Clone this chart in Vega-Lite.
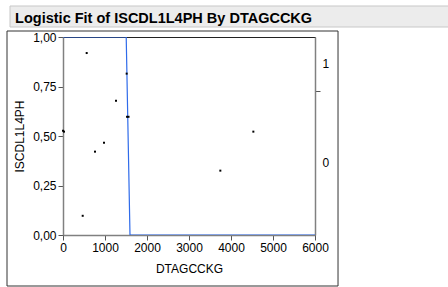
{
  "$schema": "https://vega.github.io/schema/vega-lite/v6.json",
  "width": 252,
  "height": 198,
  "autosize": {"type": "none"},
  "padding": {"left": 63, "top": 37, "right": 133, "bottom": 52},
  "background": "white",
  "config": {
    "font": "Liberation Sans",
    "view": {"stroke": "#222222", "strokeWidth": 1},
    "axis": {
      "grid": false,
      "domainColor": "#808080",
      "domainWidth": 1.5,
      "tickColor": "#555555",
      "tickSize": 5,
      "labelFont": "Liberation Sans",
      "labelFontSize": 12,
      "labelColor": "#000000",
      "labelPadding": 2,
      "labelFlush": false,
      "labelOverlap": false,
      "titleFont": "Liberation Sans",
      "titleFontSize": 12,
      "titleFontWeight": "normal",
      "titleColor": "#000000"
    }
  },
  "datasets": {
    "points": [
      {"DTAGCCKG": 0, "ISCDL1L4PH": 0.527},
      {"DTAGCCKG": 24, "ISCDL1L4PH": 0.522},
      {"DTAGCCKG": 564, "ISCDL1L4PH": 0.919},
      {"DTAGCCKG": 469, "ISCDL1L4PH": 0.097},
      {"DTAGCCKG": 762, "ISCDL1L4PH": 0.421},
      {"DTAGCCKG": 976, "ISCDL1L4PH": 0.466},
      {"DTAGCCKG": 1262, "ISCDL1L4PH": 0.678},
      {"DTAGCCKG": 1516, "ISCDL1L4PH": 0.815},
      {"DTAGCCKG": 1525, "ISCDL1L4PH": 0.597},
      {"DTAGCCKG": 1560, "ISCDL1L4PH": 0.597},
      {"DTAGCCKG": 3746, "ISCDL1L4PH": 0.325},
      {"DTAGCCKG": 4532, "ISCDL1L4PH": 0.522}
    ],
    "curve": [
      {"DTAGCCKG": 0, "prob": 1},
      {"DTAGCCKG": 1505, "prob": 1},
      {"DTAGCCKG": 1550, "prob": 0.5},
      {"DTAGCCKG": 1595, "prob": 0},
      {"DTAGCCKG": 6000, "prob": 0}
    ],
    "heading": [
      {"label": "Logistic Fit of ISCDL1L4PH By DTAGCCKG"}
    ]
  },
  "layer": [
    {
      "data": {"values": [{}]},
      "mark": {"type": "rect", "fill": "#ececec", "stroke": "#c8c8c8", "strokeWidth": 1, "clip": false},
      "encoding": {
        "x": {"datum": -1262, "type": "quantitative", "scale": {"domain": [0, 6000], "nice": false, "zero": false}, "axis": {"values": [0, 1000, 2000, 3000, 4000, 5000, 6000], "format": "d", "title": "DTAGCCKG", "titlePadding": 10}},
        "x2": {"datum": 9400},
        "y": {"datum": 1.1566, "type": "quantitative", "scale": {"domain": [0, 1], "nice": false, "zero": false}, "axis": null},
        "y2": {"datum": 1.0505}
      }
    },
    {
      "data": {"name": "heading"},
      "mark": {"type": "text", "align": "left", "baseline": "alphabetic", "font": "Liberation Sans", "fontSize": 14.5, "fontWeight": "bold", "color": "#000000", "clip": false},
      "encoding": {
        "text": {"field": "label"},
        "x": {"datum": -1140, "type": "quantitative", "scale": {"domain": [0, 6000], "nice": false, "zero": false}, "axis": {"values": [0, 1000, 2000, 3000, 4000, 5000, 6000], "format": "d", "title": "DTAGCCKG", "titlePadding": 10}},
        "y": {"datum": 1.0732, "type": "quantitative", "scale": {"domain": [0, 1], "nice": false, "zero": false}, "axis": null}
      }
    },
    {
      "data": {"values": [{}]},
      "mark": {"type": "rect", "fill": null, "fillOpacity": 0, "stroke": "#333333", "strokeWidth": 1, "clip": false},
      "encoding": {
        "x": {"datum": -1333, "type": "quantitative", "scale": {"domain": [0, 6000], "nice": false, "zero": false}, "axis": {"values": [0, 1000, 2000, 3000, 4000, 5000, 6000], "format": "d", "title": "DTAGCCKG", "titlePadding": 10}},
        "x2": {"datum": 6548},
        "y": {"datum": 1.0303, "type": "quantitative", "scale": {"domain": [0, 1], "nice": false, "zero": false}, "axis": null},
        "y2": {"datum": -0.2576}
      }
    },
    {
      "data": {"name": "curve"},
      "mark": {"type": "line", "color": "#2f6bea", "strokeWidth": 1.2, "clip": true},
      "encoding": {
        "x": {"field": "DTAGCCKG", "type": "quantitative", "scale": {"domain": [0, 6000], "nice": false, "zero": false}, "axis": {"values": [0, 1000, 2000, 3000, 4000, 5000, 6000], "format": "d", "title": "DTAGCCKG", "titlePadding": 10}},
        "y": {
          "field": "prob", "type": "quantitative",
          "scale": {"domain": [0, 1], "nice": false, "zero": false},
          "axis": {
            "orient": "right",
            "title": null,
            "values": [0.364, 0.727, 0.864],
            "labelExpr": "datum.value == 0.727 ? '' : (datum.value > 0.5 ? '1' : '0')",
            "tickOpacity": {"condition": {"test": "datum.value == 0.727", "value": 1}, "value": 0},
            "domainColor": "#808080"
          }
        }
      }
    },
    {
      "data": {"name": "points"},
      "mark": {"type": "square", "color": "#000000", "size": 4, "opacity": 1},
      "encoding": {
        "x": {"field": "DTAGCCKG", "type": "quantitative", "scale": {"domain": [0, 6000], "nice": false, "zero": false}, "axis": {"values": [0, 1000, 2000, 3000, 4000, 5000, 6000], "format": "d", "title": "DTAGCCKG", "titlePadding": 10}},
        "y": {
          "field": "ISCDL1L4PH", "type": "quantitative",
          "scale": {"domain": [0, 1], "nice": false, "zero": false},
          "axis": {
            "orient": "left",
            "title": "ISCDL1L4PH",
            "titlePadding": 6,
            "values": [0, 0.25, 0.5, 0.75, 1],
            "labelExpr": "replace(format(datum.value, '.2f'), '.', ',')"
          }
        }
      }
    }
  ],
  "resolve": {"axis": {"y": "independent"}}
}
